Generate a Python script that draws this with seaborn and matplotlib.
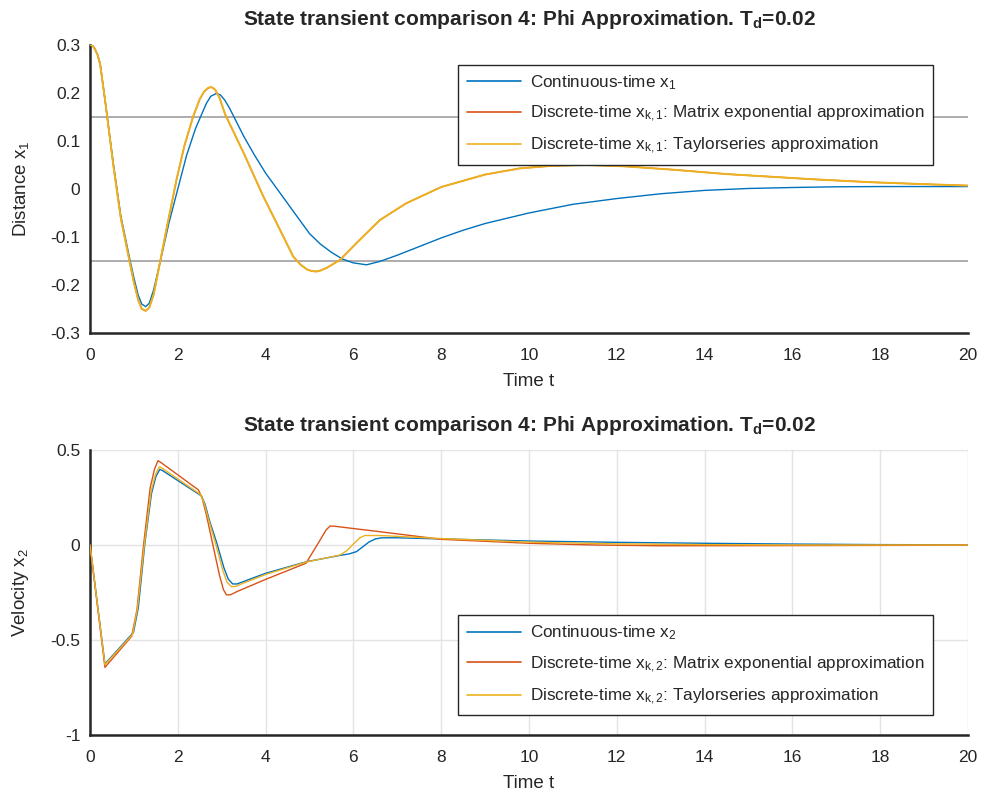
import matplotlib
matplotlib.use("Agg")
import matplotlib.pyplot as plt
import seaborn as sns

# ---- distance x1 ----
t_x1_cont = [0, 0.05, 0.1, 0.17, 0.23, 0.35, 0.53, 0.7, 0.91, 1.0, 1.1, 1.18, 1.27, 1.35, 1.45,
             1.59, 1.8, 2.0, 2.2, 2.4, 2.54, 2.65, 2.75, 2.88, 2.97, 3.07, 3.18, 3.28, 3.5,
             3.75, 4.0, 4.5, 5.0, 5.25, 5.5, 5.75, 6.0, 6.3, 6.6, 7.0, 7.5, 8.0, 8.5, 9.0,
             10.0, 11.0, 12.0, 13.0, 14.0, 15.0, 16.0, 17.0, 18.0, 20.0]
x1_cont = [0.3, 0.299, 0.294, 0.28, 0.262, 0.18, 0.054, -0.055, -0.148, -0.185, -0.222, -0.24,
           -0.245, -0.238, -0.21, -0.155, -0.07, 0.0, 0.07, 0.125, 0.155, 0.178, 0.193, 0.199,
           0.196, 0.185, 0.168, 0.15, 0.11, 0.07, 0.033, -0.03, -0.093, -0.115, -0.132, -0.146,
           -0.154, -0.158, -0.151, -0.138, -0.12, -0.102, -0.086, -0.072, -0.05, -0.032, -0.02,
           -0.01, -0.003, 0.001, 0.003, 0.0045, 0.005, 0.005]

t_x1_disc = [0, 0.05, 0.1, 0.17, 0.23, 0.35, 0.53, 0.7, 0.91, 1.0, 1.1, 1.18, 1.27, 1.35, 1.45,
             1.59, 1.75, 1.97, 2.15, 2.35, 2.5, 2.6, 2.7, 2.77, 2.85, 2.95, 3.08, 3.5, 3.95,
             4.3, 4.63, 4.8, 4.95, 5.05, 5.15, 5.25, 5.4, 5.69, 6.1, 6.6, 7.2, 8.0, 9.0, 9.8,
             10.5, 11.3, 12.2, 13.3, 14.5, 15.6, 16.5, 17.8, 19.0, 20.0]
x1_matexp = [0.3, 0.299, 0.293, 0.28, 0.26, 0.18, 0.05, -0.06, -0.155, -0.195, -0.232, -0.25,
             -0.254, -0.247, -0.22, -0.155, -0.08, 0.019, 0.09, 0.151, 0.187, 0.203, 0.211,
             0.212, 0.207, 0.19, 0.155, 0.075, -0.016, -0.08, -0.141, -0.158, -0.168, -0.171,
             -0.172, -0.17, -0.164, -0.148, -0.11, -0.065, -0.03, 0.004, 0.03, 0.043, 0.048,
             0.05, 0.047, 0.04, 0.031, 0.025, 0.02, 0.014, 0.01, 0.007]
x1_taylor = list(x1_matexp)

# ---- velocity x2 ----
t_x2_cont = [0, 0.34, 0.99, 1.1, 1.25, 1.4, 1.5, 1.59, 1.65, 2.54, 2.62, 2.72, 2.89, 3.05, 3.15,
             3.25, 3.35, 3.5, 4.0, 4.93, 5.69, 5.9, 6.07, 6.2, 6.35, 6.5, 6.65, 7.0, 8.0,
             10.0, 12.0, 14.0, 16.0, 18.0, 20.0]
x2_cont = [0, -0.626, -0.46, -0.33, 0.009, 0.27, 0.36, 0.398, 0.392, 0.258, 0.215, 0.13, 0.009,
           -0.12, -0.18, -0.205, -0.205, -0.192, -0.149, -0.088, -0.055, -0.047, -0.035,
           -0.012, 0.015, 0.032, 0.038, 0.038, 0.032, 0.021, 0.014, 0.009, 0.005, 0.002, 0.001]

t_x2_matexp = [0, 0.34, 0.95, 1.07, 1.22, 1.37, 1.47, 1.55, 1.61, 2.47, 2.55, 2.65, 2.8, 2.95,
               3.04, 3.11, 3.2, 3.35, 4.0, 4.92, 5.2, 5.38, 5.47, 5.56, 6.6, 8.0, 10.0, 11.5,
               13.0, 16.0, 20.0]
x2_matexp = [0, -0.644, -0.48, -0.34, 0.0, 0.3, 0.4, 0.444, 0.435, 0.29, 0.25, 0.16, 0.0, -0.16,
             -0.235, -0.263, -0.262, -0.245, -0.181, -0.096, 0.01, 0.08, 0.1, 0.099, 0.07,
             0.03, 0.009, 0.0, -0.004, -0.003, -0.001]

t_x2_taylor = [0, 0.34, 0.97, 1.08, 1.24, 1.39, 1.49, 1.58, 1.64, 2.52, 2.6, 2.7, 2.87, 3.02,
               3.12, 3.22, 3.32, 3.47, 4.0, 4.92, 5.69, 5.85, 6.0, 6.15, 6.26, 6.6, 8.0, 10.0,
               12.0, 14.0, 16.0, 20.0]
x2_taylor = [0, -0.63, -0.47, -0.335, 0.005, 0.28, 0.37, 0.412, 0.405, 0.265, 0.22, 0.135, 0.0,
             -0.13, -0.195, -0.219, -0.218, -0.203, -0.155, -0.09, -0.053, -0.03, 0.005, 0.038,
             0.05, 0.05, 0.034, 0.015, 0.006, 0.002, 0.0, 0.0]

x_ticks = list(range(0, 21, 2))
y1_ticks = [-0.3, -0.2, -0.1, 0, 0.1, 0.2, 0.3]
y1_ticklabels = ["-0.3", "-0.2", "-0.1", "0", "0.1", "0.2", "0.3"]
y2_ticks = [-1, -0.5, 0, 0.5]
y2_ticklabels = ["-1", "-0.5", "0", "0.5"]
bounds_x1 = [-0.15, 0.15]

title = r"State transient comparison 4: Phi Approximation. $\mathbf{T_d}$=0.02"
labels_x1 = ["Continuous-time x$_\\mathrm{1}$",
             "Discrete-time x$_\\mathrm{k,1}$: Matrix exponential approximation",
             "Discrete-time x$_\\mathrm{k,1}$: Taylorseries approximation"]
labels_x2 = ["Continuous-time x$_\\mathrm{2}$",
             "Discrete-time x$_\\mathrm{k,2}$: Matrix exponential approximation",
             "Discrete-time x$_\\mathrm{k,2}$: Taylorseries approximation"]

BLUE, RED, YELLOW = "#0072BD", "#D95319", "#EDB120"
INK = "#262626"

sns.set_theme(style="white")
plt.rcParams.update({
    "font.family": ["Liberation Sans", "DejaVu Sans"],
    "mathtext.fontset": "custom",
    "mathtext.rm": "Liberation Sans",
    "mathtext.it": "Liberation Sans:italic",
    "mathtext.bf": "Liberation Sans:bold",
    "axes.edgecolor": INK,
    "text.color": INK,
    "axes.labelcolor": INK,
    "xtick.color": INK,
    "ytick.color": INK,
})

fig = plt.figure(figsize=(9.87, 8.01), dpi=100)
ax1 = fig.add_axes([0.0912, 0.5843, 0.8895, 0.3596])
ax2 = fig.add_axes([0.0912, 0.0824, 0.8895, 0.3558])


def style_axes(ax, yticks, yticklabels, ylim):
    ax.set_xlim(0, 20)
    ax.set_ylim(*ylim)
    ax.set_xticks(x_ticks)
    ax.set_xticklabels([str(v) for v in x_ticks])
    ax.set_yticks(yticks)
    ax.set_yticklabels(yticklabels)
    for side in ("top", "right"):
        ax.spines[side].set_visible(False)
    for side in ("left", "bottom"):
        ax.spines[side].set_linewidth(1.8)
    ax.tick_params(direction="in", length=6, width=1.5, labelsize=12.5)
    ax.tick_params(axis="y", pad=7)
    ax.tick_params(axis="x", pad=11)
    ax.set_xlabel("Time t", fontsize=13.5, labelpad=7)
    ax.set_title(title, fontsize=15, fontweight="bold", pad=14)


# top panel: distance
for y in bounds_x1:
    ax1.axhline(y, color="#a0a0a0", lw=1.2, zorder=1)
sns.lineplot(x=t_x1_cont, y=x1_cont, ax=ax1, color=BLUE, lw=1.0, label=labels_x1[0],
             estimator=None, sort=False, zorder=3)
sns.lineplot(x=t_x1_disc, y=x1_matexp, ax=ax1, color=RED, lw=1.0, label=labels_x1[1],
             estimator=None, sort=False, zorder=3)
sns.lineplot(x=t_x1_disc, y=x1_taylor, ax=ax1, color=YELLOW, lw=1.4, label=labels_x1[2],
             estimator=None, sort=False, zorder=4)
style_axes(ax1, y1_ticks, y1_ticklabels, (-0.3, 0.3))
ax1.set_ylabel("Distance x$_\\mathrm{1}$", fontsize=13.5, labelpad=14)

# bottom panel: velocity
sns.lineplot(x=t_x2_cont, y=x2_cont, ax=ax2, color=BLUE, lw=1.0, label=labels_x2[0],
             estimator=None, sort=False, zorder=3)
sns.lineplot(x=t_x2_matexp, y=x2_matexp, ax=ax2, color=RED, lw=1.0, label=labels_x2[1],
             estimator=None, sort=False, zorder=3)
sns.lineplot(x=t_x2_taylor, y=x2_taylor, ax=ax2, color=YELLOW, lw=1.0, label=labels_x2[2],
             estimator=None, sort=False, zorder=4)
style_axes(ax2, y2_ticks, y2_ticklabels, (-1, 0.5))
ax2.grid(True, color="#e3e3e3", lw=1.0)
ax2.set_axisbelow(True)
ax2.set_ylabel("Velocity x$_\\mathrm{2}$", fontsize=13.5, labelpad=14)

for ax, anchor in ((ax1, (0.960, 0.9316)), (ax2, (0.960, 0.421))):
    leg = ax.legend(loc="upper right", bbox_to_anchor=anchor, fontsize=12.3, frameon=True,
                    fancybox=False, borderaxespad=0, handlelength=3.2, handletextpad=0.5,
                    labelspacing=0.7, borderpad=0.5)
    frame = leg.get_frame()
    frame.set_edgecolor(INK)
    frame.set_linewidth(1.0)
    frame.set_alpha(1)
    leg.set_zorder(10)
    for h in leg.get_lines():
        h.set_linewidth(1.2)

fig.savefig("out.png", dpi=100, facecolor="white")
